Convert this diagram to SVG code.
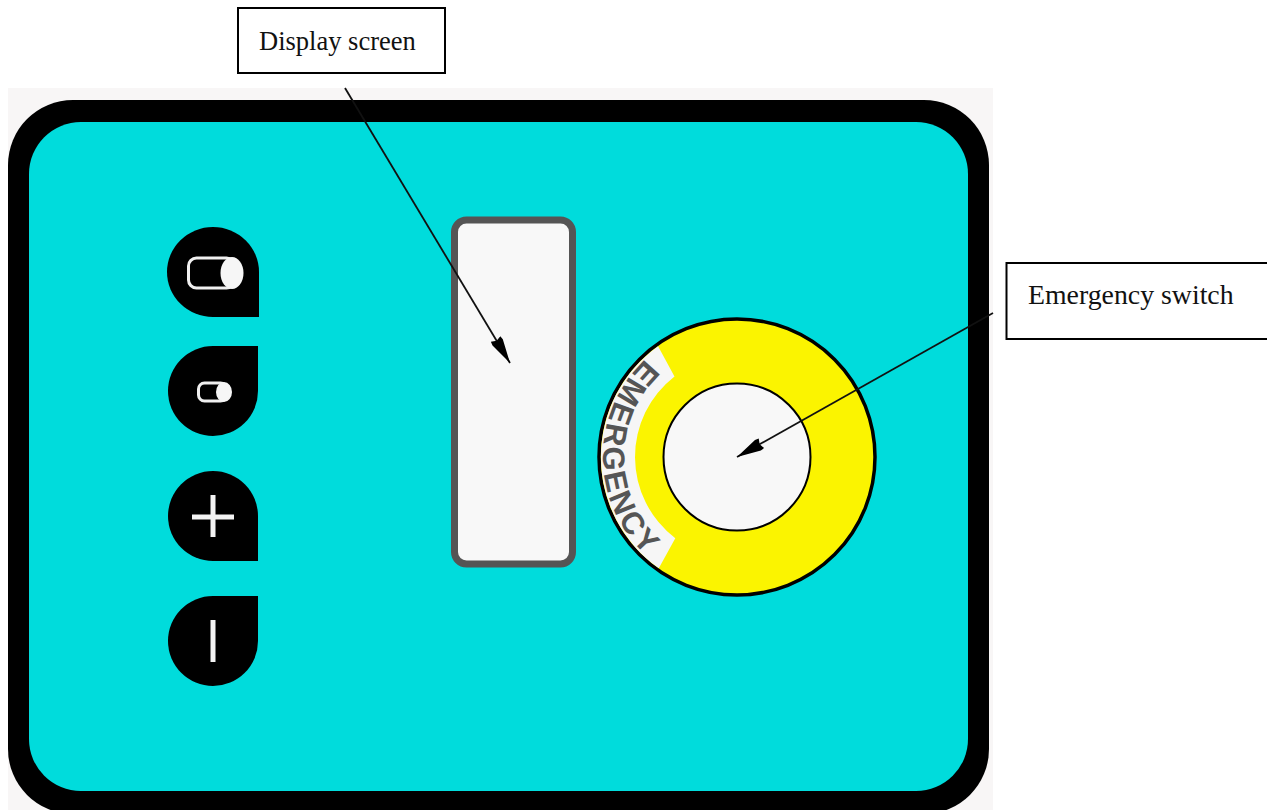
<svg xmlns="http://www.w3.org/2000/svg" width="1267" height="810" viewBox="0 0 1267 810">
<style>
.lbl{fill:#fff;stroke:#000;stroke-width:2}
.t{font-family:"Liberation Serif","Times New Roman",serif;fill:#111}
.btn{fill:#000}
.w{fill:none;stroke:#f0f0f0;stroke-width:3}
.ws{fill:none;stroke:#f4f4f4;stroke-width:5}
.knob{fill:#f6f6f6}
.conn{fill:none;stroke:#111;stroke-width:1.800;marker-end:url(#a)}
</style>
<defs>
<marker id="a" markerUnits="userSpaceOnUse" markerWidth="30" markerHeight="16" refX="28" refY="8" orient="auto">
<path d="M0 2.500L4 2L28 8L4 14L0 13.500L2 8Z" fill="#000"/>
</marker>
<path id="arc" d="M645.600 359A134 134 0 0 0 670 573"/>
</defs>
<rect width="1267" height="810" fill="#fff"/>
<rect x="8" y="88" width="985" height="722" fill="#f8f6f6"/>
<g id="panel"><rect x="8" y="100" width="981" height="714" rx="65" fill="#000"/><rect x="29" y="122" width="939" height="669" rx="52" fill="#00dcdc"/></g>
<g id="btn-on">
<path class="btn" d="M259 317H213A46 45 0 1 1 259 272Z"/>
<rect class="w" x="188.500" y="258" width="46" height="30" rx="8"/>
<ellipse class="knob" cx="232" cy="273" rx="11.500" ry="16"/>
</g>
<g id="btn-off">
<path class="btn" d="M258 346H213A45 45 0 1 0 258 391Z"/>
<rect class="w" x="198.500" y="383" width="28" height="18" rx="6"/>
<ellipse class="knob" cx="224" cy="392" rx="8" ry="10"/>
</g>
<g id="btn-plus">
<path class="btn" d="M258 561H213A45 45 0 1 1 258 516Z"/>
<path class="ws" d="M192 517H234M213 495V537"/>
</g>
<g id="btn-minus">
<path class="btn" d="M258 596H213A45 45 0 1 0 258 641Z"/>
<path class="ws" d="M213 620V662"/>
</g>
<g id="screen"><rect x="454.500" y="220" width="118" height="344" rx="12" fill="#f8f8f8" stroke="#555" stroke-width="7"/></g>
<g id="emergency">
<circle cx="737" cy="457" r="138" fill="#fbf400" stroke="#000" stroke-width="3.500"/>
<path d="M658.100 346.200A136 136 0 0 0 658.800 568.300L675.300 538.200A102 102 0 0 1 674.500 376.400Z" fill="#f6f6f6"/>
<circle cx="737" cy="457" r="73.500" fill="#f8f8f8" stroke="#000" stroke-width="2"/>
<text font-family="'Liberation Sans',Arial,sans-serif" font-weight="700" font-size="31" letter-spacing="2.500" fill="#555"><textPath href="#arc">EMERGENCY</textPath></text>
</g>
<g id="connectors">
<path class="conn" d="M345 88L510 363"/>
<path class="conn" d="M993 313L737 457"/>
</g>
<g id="label-display"><rect class="lbl" x="238" y="8" width="207" height="65"/><text class="t" x="259" y="50" font-size="26.500">Display screen</text></g>
<g id="label-emergency"><rect class="lbl" x="1006.500" y="263" width="262" height="76"/><text class="t" x="1028" y="304" font-size="27.800">Emergency switch</text></g>
</svg>
